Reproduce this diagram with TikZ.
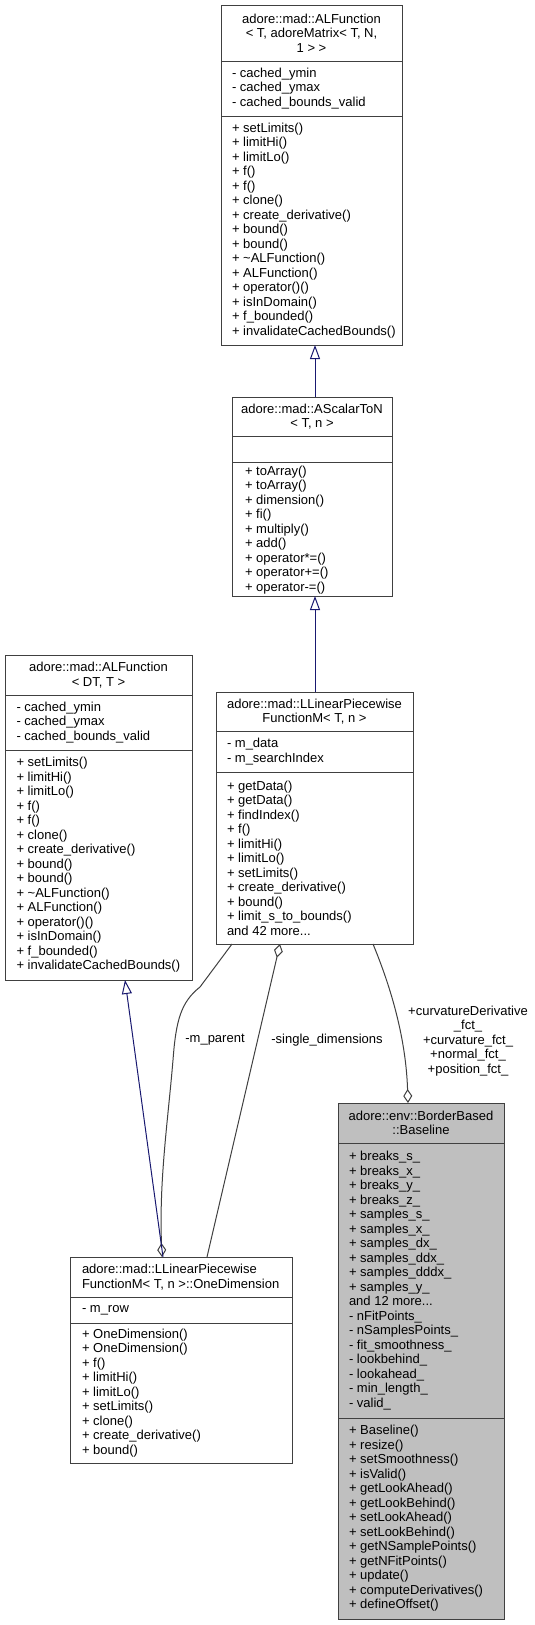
\documentclass[tikz,border=0pt]{standalone}
\usepackage{fontspec}
\setmainfont{Liberation Sans}
\usetikzlibrary{arrows.meta}
\definecolor{boxline}{HTML}{404040}
\definecolor{edgegray}{HTML}{404040}
\definecolor{inhblue}{HTML}{191970}
\definecolor{mainfill}{HTML}{BFBFBF}
\begin{document}
\begin{tikzpicture}[x=1pt,y=-1pt,
  every node/.style={font=\fontsize{13pt}{14.5pt}\selectfont, inner sep=0pt, outer sep=0pt},
  classbox/.style={draw=boxline, line width=1pt, fill=white},
  mainbox/.style={draw=boxline, line width=1pt, fill=mainfill},
  sepline/.style={draw=boxline, line width=1pt},
  inh/.style={draw=inhblue, line width=1pt, -{Triangle[open, length=14pt, width=10pt, fill=white]}},
  agg/.style={draw=edgegray, line width=1pt, -{Diamond[open, length=14pt, width=9pt, fill=white]}},
  hdr/.style={align=center},
  lst/.style={anchor=west, align=left}
]
\useasboundingbox (0,0) rectangle (535,1625);

% ---- boxes ----
\node[classbox, minimum width=181pt, minimum height=340pt] (b1) at (311.5,175) {};
\node[classbox, minimum width=160pt, minimum height=199pt] (b2) at (312,496.5) {};
\node[classbox, minimum width=187pt, minimum height=325pt] (b3) at (98.5,817.5) {};
\node[classbox, minimum width=197pt, minimum height=252pt] (b4) at (314.5,818) {};
\node[mainbox, minimum width=166pt, minimum height=516pt] (b5) at (421,1361) {};
\node[classbox, minimum width=222pt, minimum height=206pt] (b6) at (181,1360) {};

% ---- separators ----
\draw[sepline] (221,61) -- (402,61);
\draw[sepline] (221,116) -- (402,116);
\draw[sepline] (232,436) -- (392,436);
\draw[sepline] (232,462) -- (392,462);
\draw[sepline] (5,695) -- (192,695);
\draw[sepline] (5,750) -- (192,750);
\draw[sepline] (216,731) -- (413,731);
\draw[sepline] (216,772) -- (413,772);
\draw[sepline] (338,1143) -- (504,1143);
\draw[sepline] (338,1418) -- (504,1418);
\draw[sepline] (70,1297) -- (292,1297);
\draw[sepline] (70,1323) -- (292,1323);

% ---- texts: box 1 ----
\node[hdr] (b1h) at (311.5,33) {adore::mad::ALFunction\\< T, adoreMatrix< T, N,\\1 > >};
\node[lst] (b1a) at (232,88.5) {- cached\_ymin\\- cached\_ymax\\- cached\_bounds\_valid};
\node[lst] (b1m) at (232,230.5) {+ setLimits()\\+ limitHi()\\+ limitLo()\\+ f()\\+ f()\\+ clone()\\+ create\_derivative()\\+ bound()\\+ bound()\\+ \textasciitilde ALFunction()\\+ ALFunction()\\+ operator()()\\+ isInDomain()\\+ f\_bounded()\\+ invalidateCachedBounds()};

% ---- box 2 ----
\node[hdr] (b2h) at (312,416.5) {adore::mad::AScalarToN\\< T, n >};
\node[lst] (b2m) at (245,530) {+ toArray()\\+ toArray()\\+ dimension()\\+ fi()\\+ multiply()\\+ add()\\+ operator*=()\\+ operator+=()\\+ operator-=()};

% ---- box 3 ----
\node[hdr] (b3h) at (98.5,675) {adore::mad::ALFunction\\< DT, T >};
\node[lst] (b3a) at (16.5,722.5) {- cached\_ymin\\- cached\_ymax\\- cached\_bounds\_valid};
\node[lst] (b3m) at (16.5,865) {+ setLimits()\\+ limitHi()\\+ limitLo()\\+ f()\\+ f()\\+ clone()\\+ create\_derivative()\\+ bound()\\+ bound()\\+ \textasciitilde ALFunction()\\+ ALFunction()\\+ operator()()\\+ isInDomain()\\+ f\_bounded()\\+ invalidateCachedBounds()};

% ---- box 4 ----
\node[hdr] (b4h) at (314.5,711.5) {adore::mad::LLinearPiecewise\\FunctionM< T, n >};
\node[lst] (b4a) at (227,751.5) {- m\_data\\- m\_searchIndex};
\node[lst] (b4m) at (227,858) {+ getData()\\+ getData()\\+ findIndex()\\+ f()\\+ limitHi()\\+ limitLo()\\+ setLimits()\\+ create\_derivative()\\+ bound()\\+ limit\_s\_to\_bounds()\\and 42 more...};

% ---- box 5 ----
\node[hdr] (b5h) at (421,1123) {adore::env::BorderBased\\::Baseline};
\node[lst] (b5a) at (349,1280.5) {+ breaks\_s\_\\+ breaks\_x\_\\+ breaks\_y\_\\+ breaks\_z\_\\+ samples\_s\_\\+ samples\_x\_\\+ samples\_dx\_\\+ samples\_ddx\_\\+ samples\_dddx\_\\+ samples\_y\_\\and 12 more...\\- nFitPoints\_\\- nSamplesPoints\_\\- fit\_smoothness\_\\- lookbehind\_\\- lookahead\_\\- min\_length\_\\- valid\_};
\node[lst] (b5m) at (349,1518.5) {+ Baseline()\\+ resize()\\+ setSmoothness()\\+ isValid()\\+ getLookAhead()\\+ getLookBehind()\\+ setLookAhead()\\+ setLookBehind()\\+ getNSamplePoints()\\+ getNFitPoints()\\+ update()\\+ computeDerivatives()\\+ defineOffset()};

% ---- box 6 ----
\node[lst] (b6h) at (82,1277) {adore::mad::LLinearPiecewise\\FunctionM< T, n >::OneDimension};
\node[lst] (b6a) at (82,1310) {- m\_row};
\node[lst] (b6m) at (82,1393) {+ OneDimension()\\+ OneDimension()\\+ f()\\+ limitHi()\\+ limitLo()\\+ setLimits()\\+ clone()\\+ create\_derivative()\\+ bound()};

% ---- edges ----
\draw[agg] ([xshift=-82.5pt]b4.south) -- (200,987) .. controls (181,1002) and (176,1020) .. (173,1060) .. controls (168,1120) and (159,1180) .. ([xshift=-19pt]b6.north);
\draw[agg] ([xshift=26pt]b6.north) -- ([xshift=-34.5pt]b4.south);
\draw[agg] ([xshift=58.5pt]b4.south) .. controls (392,990) and (406,1040) .. ([xshift=-13pt]b5.north);
\draw[inh] ([xshift=3pt]b2.north) -- ([xshift=3.5pt]b1.south);
\draw[inh] ([xshift=0.5pt]b4.north) -- ([xshift=3pt]b2.south);
\draw[inh] ([xshift=-18pt]b6.north) -- ([xshift=26.5pt]b3.south);

% ---- edge labels ----
\node (l1) at (215,1040) {-m\_parent};
\node (l2) at (327,1040) {-single\_dimensions};
\node[align=center] (l3) at (468,1041) {+curvatureDerivative\\\_fct\_\\+curvature\_fct\_\\+normal\_fct\_\\+position\_fct\_};
\end{tikzpicture}
\end{document}
